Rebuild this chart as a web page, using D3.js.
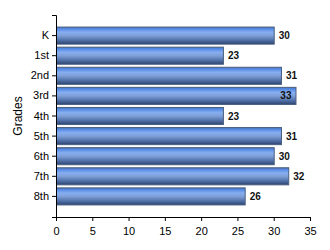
<!DOCTYPE html>
<html><head><meta charset="utf-8">
<script src="https://cdn.jsdelivr.net/npm/d3@7"></script>
<style>body{margin:0;background:#fff}svg{display:block}</style>
</head><body>
<svg id="c" width="330" height="250"></svg>
<script>
const categories = ["K","1st","2nd","3rd","4th","5th","6th","7th","8th"];
const values = [30,23,31,33,23,31,30,32,26];
const xTicks = [0,5,10,15,20,25,30,35];
const yTitle = "Grades";

(function(){
const svg = d3.select("#c");
const pl = 56, pr = 310, pt = 15, pb = 217;
const x = d3.scaleLinear().domain([0,35]).range([pl,pr]);
const y = d3.scaleBand().domain(categories).range([pt,pb]).paddingInner(0.15).paddingOuter(0.6);

const defs = svg.append("defs");
const g = defs.append("linearGradient").attr("id","bg").attr("x1",0).attr("y1",0).attr("x2",0).attr("y2",1);
[[0,"#56709a"],[0.08,"#4f86e4"],[0.3,"#86aef0"],[0.5,"#7f9fd8"],[0.75,"#5474ac"],[1,"#2c4470"]]
 .forEach(([o,c])=>g.append("stop").attr("offset",o).attr("stop-color",c));

svg.append("g").selectAll("rect").data(values).join("rect")
  .attr("x", x(0)+0.5)
  .attr("y", (d,i)=>y(categories[i]))
  .attr("width", d=>x(d)-x(0))
  .attr("height", y.bandwidth())
  .attr("fill","url(#bg)")
  .attr("stroke","#4a5f80").attr("stroke-width",1);

svg.append("g").selectAll("text").data(values).join("text")
  .attr("font-family","Liberation Sans, Arial, sans-serif")
  .attr("font-size",10).attr("font-weight","bold").attr("fill","#111")
  .attr("dy","0.35em")
  .attr("y",(d,i)=>y(categories[i])+y.bandwidth()/2)
  .attr("x",d=> x(d)+20>pr ? x(d)-4 : x(d)+5)
  .attr("text-anchor",d=> x(d)+20>pr ? "end" : "start")
  .text(d=>d);

const ya = svg.append("g").attr("transform",`translate(${pl},0)`)
  .call(d3.axisLeft(y).tickSize(4).tickSizeOuter(4).tickPadding(3));
const xa = svg.append("g").attr("transform",`translate(0,${pb})`)
  .call(d3.axisBottom(x).tickValues(xTicks).tickSize(4).tickSizeOuter(0).tickPadding(6));
[ya,xa].forEach(a=>{
  a.selectAll("text").attr("font-family","Liberation Sans, Arial, sans-serif").attr("font-size",11).attr("fill","#000");
  a.selectAll("line,path").attr("stroke","#000");
});

svg.append("text").attr("transform",`translate(22,116) rotate(-90)`)
  .attr("text-anchor","middle").attr("font-family","Liberation Sans, Arial, sans-serif")
  .attr("font-size",12).attr("fill","#000").text(yTitle);
})();
</script>
</body></html>
